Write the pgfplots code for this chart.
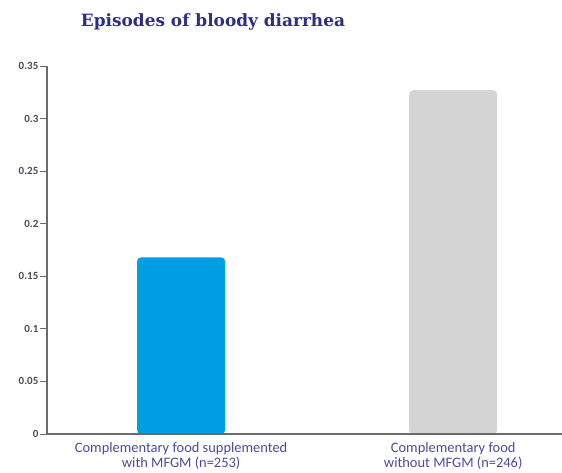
\documentclass[border=0pt]{standalone}
\usepackage{pgfplots}
\pgfplotsset{compat=1.18}
\usepackage{fontspec}
\setmainfont{Carlito}
\newfontfamily\titlefont{DejaVu Serif}
\definecolor{barblue}{HTML}{009FE3}
\definecolor{bargray}{HTML}{D4D4D4}
\definecolor{titlec}{HTML}{2E2F82}
\definecolor{xlab}{HTML}{4B4C98}
\definecolor{axc}{HTML}{6A6A6A}
\definecolor{tickc}{HTML}{4A4A5A}
\begin{document}
\begin{tikzpicture}
\path[use as bounding box] (-47bp,-39bp) rectangle (515bp,434bp);
\begin{axis}[
  at={(0,0)}, anchor=south west,
  scale only axis, width=515bp, height=368bp,
  ymin=0, ymax=0.35, xmin=-0.493, xmax=1.40,
  axis x line*=bottom, axis y line*=left,
  axis line style={draw=axc, line width=1.3pt, -},
  /pgf/number format/assume math mode=true,
  ytick={0,0.05,0.1,0.15,0.2,0.25,0.3,0.35},
  yticklabels={0,0.05,0.1,0.15,0.2,0.25,0.3,0.35},
  yticklabel style={font=\bfseries\fontsize{11}{11}\selectfont, text=tickc, inner sep=1.5pt},
  ytick style={draw=axc, line width=1pt},
  major tick length=7bp,
  tick align=outside,
  xtick={0,1},
  xticklabels={{Complementary food supplemented\\with MFGM (n=253)},{Complementary food\\without MFGM (n=246)}},
  xticklabel style={align=center, font=\fontsize{14.5}{15.5}\selectfont, text=xlab, inner sep=1pt},
  x tick style={draw=none},
  ybar, bar width=88bp, bar shift=0pt,
  axis on top,
]
\addplot[fill=barblue, draw=none, rounded corners=4bp, bar shift=0pt] coordinates {(0,0.168)};
\addplot[fill=bargray, draw=none, rounded corners=4bp, bar shift=0pt] coordinates {(1,0.327)};
\end{axis}
\node[font=\titlefont\bfseries\fontsize{17}{19}\selectfont, text=titlec] at (166bp,412bp) {Episodes of bloody diarrhea};
\end{tikzpicture}
\end{document}
